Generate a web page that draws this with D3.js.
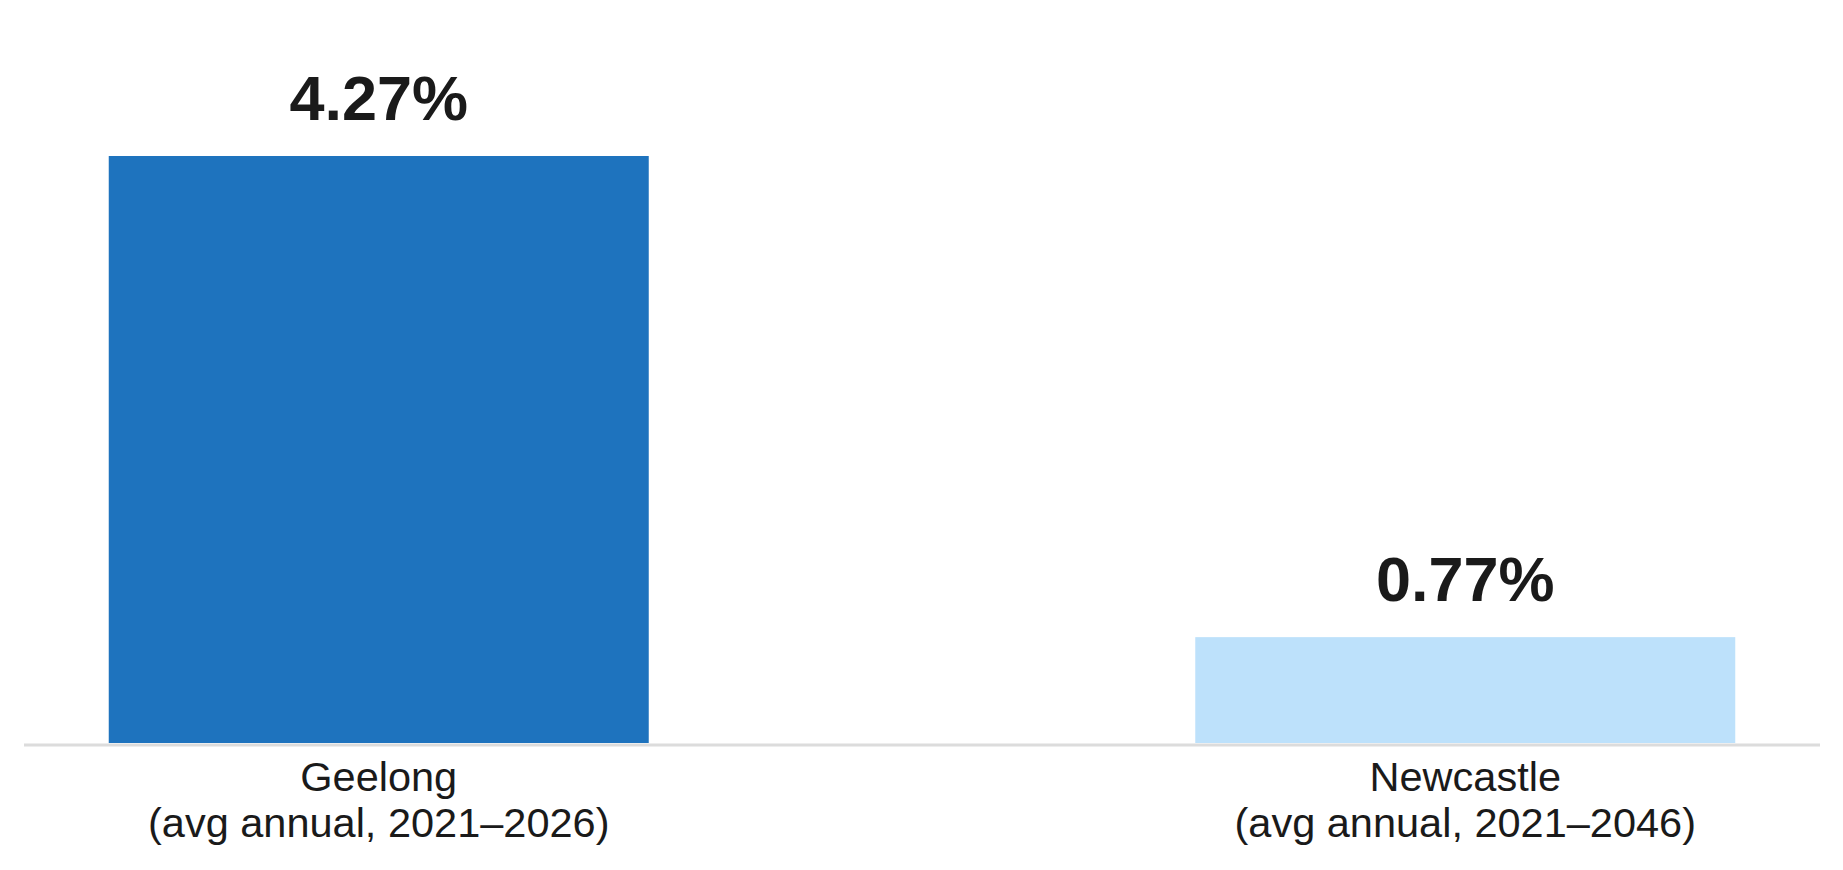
<!DOCTYPE html>
<html>
<head>
<meta charset="utf-8">
<script src="https://cdn.jsdelivr.net/npm/d3@7"></script>
<style>
  body { margin: 0; background: #fff; }
  text { font-family: "Liberation Sans", Arial, sans-serif; fill: #1a1a1a; }
</style>
</head>
<body>
<svg id="chart"></svg>
<script>
// data
var categories = ["Geelong", "Newcastle"];
var subLabels = ["(avg annual, 2021\u20132026)", "(avg annual, 2021\u20132046)"];
var values = [4.27, 0.77];
var valueLabels = ["4.27%", "0.77%"];
var barColors = ["#1e73be", "#bde1fb"];

var width = 1843;
var height = 870;
var baseline = 743;

var svg = d3.select("#chart")
  .attr("width", width)
  .attr("height", height);

var x = d3.scaleBand()
  .domain(categories)
  .range([24, 1820])
  .paddingInner(0.503)
  .paddingOuter(0.078);

var y = d3.scaleLinear()
  .domain([0, d3.max(values)])
  .range([baseline, 156]);

var data = categories.map(function (c, i) {
  return { cat: c, sub: subLabels[i], value: values[i], label: valueLabels[i], color: barColors[i] };
});

// bars
svg.selectAll(".bar")
  .data(data)
  .enter()
  .append("rect")
  .attr("class", "bar")
  .attr("x", function (d) { return x(d.cat); })
  .attr("y", function (d) { return y(d.value); })
  .attr("width", x.bandwidth())
  .attr("height", function (d) { return baseline - y(d.value); })
  .attr("fill", function (d) { return d.color; });

// baseline
svg.append("line")
  .attr("x1", 24)
  .attr("x2", 1820)
  .attr("y1", baseline + 2)
  .attr("y2", baseline + 2)
  .attr("stroke", "#dcdcdc")
  .attr("stroke-width", 3);

// value labels
svg.selectAll(".value")
  .data(data)
  .enter()
  .append("text")
  .attr("class", "value")
  .attr("x", function (d) { return x(d.cat) + x.bandwidth() / 2; })
  .attr("y", function (d) { return y(d.value) - 36; })
  .attr("text-anchor", "middle")
  .style("font-size", "63px")
  .style("font-weight", "bold")
  .text(function (d) { return d.label; });

// category labels
var cat = svg.selectAll(".cat")
  .data(data)
  .enter()
  .append("text")
  .attr("class", "cat")
  .attr("text-anchor", "middle")
  .style("font-size", "41.5px");

cat.append("tspan")
  .attr("x", function (d) { return x(d.cat) + x.bandwidth() / 2; })
  .attr("y", 791)
  .text(function (d) { return d.cat; });

cat.append("tspan")
  .attr("x", function (d) { return x(d.cat) + x.bandwidth() / 2; })
  .attr("y", 837)
  .text(function (d) { return d.sub; });
</script>
</body>
</html>
